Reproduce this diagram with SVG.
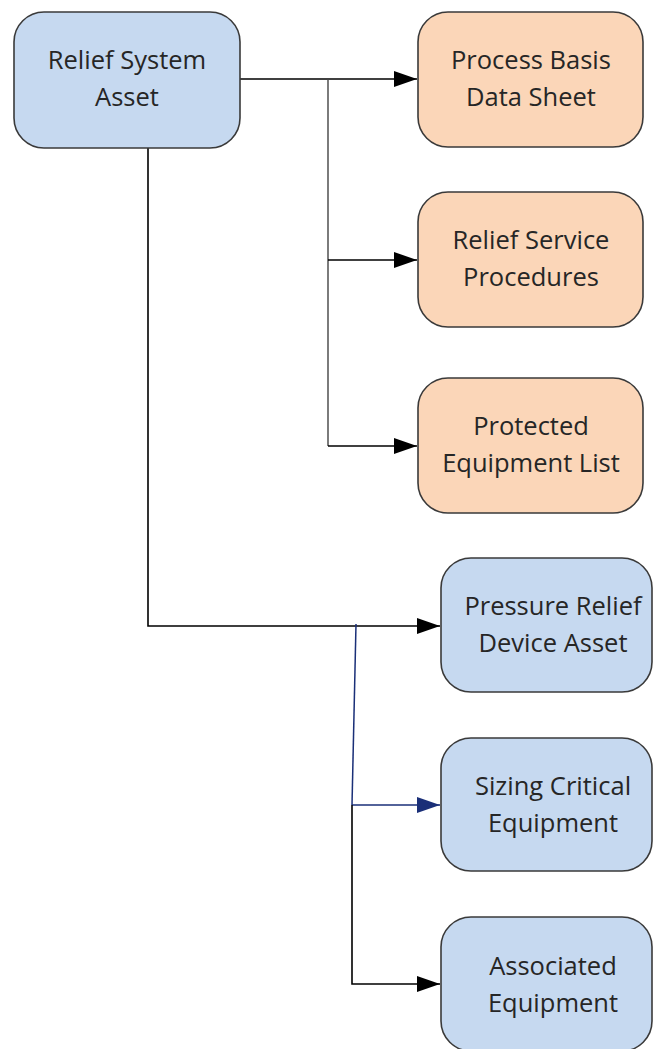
<svg xmlns="http://www.w3.org/2000/svg" width="654" height="1049" viewBox="0 0 654 1049">
<style>
.node rect{stroke:#3a3a3a;stroke-width:1.6}
.blue rect{fill:#c6d9f0}
.orange rect{fill:#fbd6b8}
.node text{font-family:"Open Sans","Liberation Sans",sans-serif;font-size:25.5px;fill:#262626;text-anchor:middle}
.conn{fill:none;stroke:#000;stroke-width:1.6}
.grey{stroke:#444;stroke-width:1.4}
.navy{stroke:#1a2f78;stroke-width:1.5}
</style>
<defs>
<marker id="ah" markerUnits="userSpaceOnUse" markerWidth="24" markerHeight="18" refX="23" refY="9" orient="auto" viewBox="0 0 24 18">
<path d="M0,1 L23,9 L0,17 Z" fill="#000"/>
</marker>
<marker id="ahn" markerUnits="userSpaceOnUse" markerWidth="24" markerHeight="18" refX="23" refY="9" orient="auto" viewBox="0 0 24 18">
<path d="M0,1 L23,9 L0,17 Z" fill="#1a2f78"/>
</marker>
</defs>
<g id="connectors">
<path class="conn" d="M240,79 H417" marker-end="url(#ah)"/>
<path class="conn grey" d="M328,79 V446"/>
<path class="conn" d="M328,260 H417" marker-end="url(#ah)"/>
<path class="conn" d="M328,446 H417" marker-end="url(#ah)"/>
<path class="conn" d="M148,148 V626 H440" marker-end="url(#ah)"/>
<path class="conn navy" d="M356,624 L352,805"/>
<path class="conn navy" d="M352,805 H440" marker-end="url(#ahn)"/>
<path class="conn" d="M352,805 V984 H440" marker-end="url(#ah)"/>
</g>
<g id="relief-system-asset" class="node blue">
<rect x="14" y="12" width="226" height="136" rx="30"/>
<text x="127" y="69">Relief System</text>
<text x="127" y="106">Asset</text>
</g>
<g id="process-basis" class="node orange">
<rect x="418" y="12" width="225" height="135" rx="30"/>
<text x="531" y="69">Process Basis</text>
<text x="531" y="106">Data Sheet</text>
</g>
<g id="relief-service" class="node orange">
<rect x="418" y="192" width="225" height="135" rx="30"/>
<text x="531" y="249">Relief Service</text>
<text x="531" y="286">Procedures</text>
</g>
<g id="protected-equipment" class="node orange">
<rect x="418" y="378" width="225" height="135" rx="30"/>
<text x="531" y="435">Protected</text>
<text x="531" y="472">Equipment List</text>
</g>
<g id="pressure-relief-device" class="node blue">
<rect x="441" y="558" width="211" height="134" rx="30"/>
<text x="553" y="615">Pressure Relief</text>
<text x="553" y="652">Device Asset</text>
</g>
<g id="sizing-critical" class="node blue">
<rect x="441" y="738" width="211" height="133" rx="30"/>
<text x="553" y="795">Sizing Critical</text>
<text x="553" y="832">Equipment</text>
</g>
<g id="associated-equipment" class="node blue">
<rect x="441" y="917" width="211" height="134" rx="30"/>
<text x="553" y="975">Associated</text>
<text x="553" y="1012">Equipment</text>
</g>
</svg>
